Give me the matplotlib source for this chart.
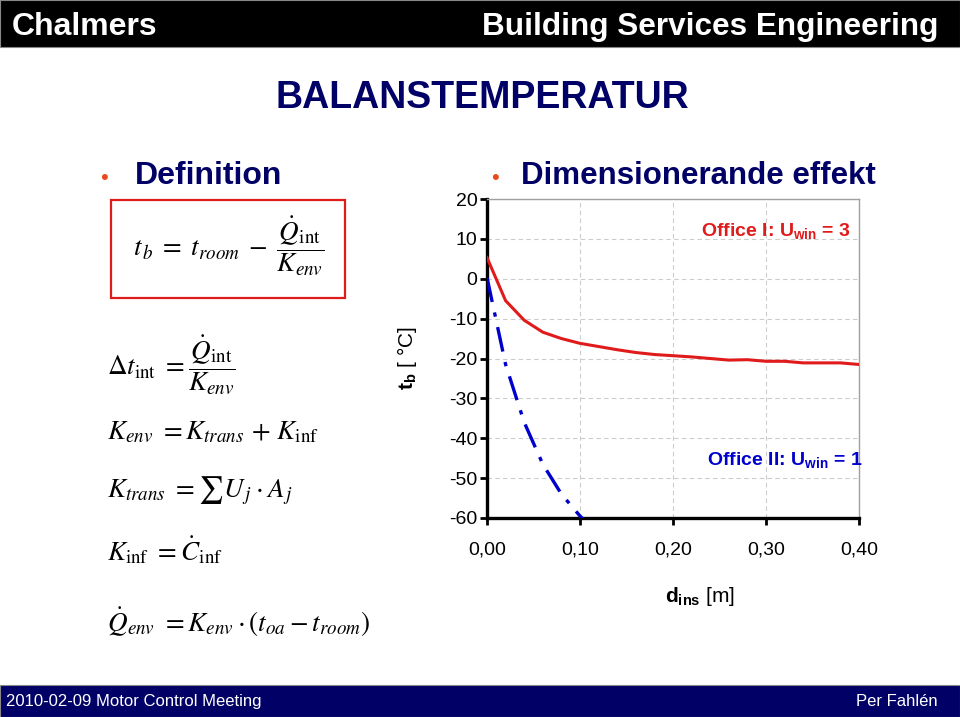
import matplotlib
matplotlib.use("Agg")
import matplotlib.pyplot as plt
from matplotlib.patches import Rectangle

# chart data
d_ins = [0.00, 0.02, 0.04, 0.06, 0.08, 0.10, 0.12, 0.14, 0.16, 0.18, 0.20,
         0.22, 0.24, 0.26, 0.28, 0.30, 0.32, 0.34, 0.36, 0.38, 0.40]
tb_office1 = [5.3, -5.5, -10.4, -13.4, -15.0, -16.2, -17.0, -17.8, -18.5, -19.0, -19.3,
              -19.6, -20.0, -20.4, -20.3, -20.7, -20.7, -21.1, -21.1, -21.1, -21.5]
d_ins2 = [0.00, 0.02, 0.04, 0.06, 0.08, 0.10, 0.12]
tb_office2 = [0.3, -21.5, -36.0, -46.5, -54.0, -59.5, -64.0]

x_ticks = [0.0, 0.1, 0.2, 0.3, 0.4]
x_tick_labels = ["0,00", "0,10", "0,20", "0,30", "0,40"]
y_ticks = [20, 10, 0, -10, -20, -30, -40, -50, -60]

NAVY = "#000066"
RED = "#E01B1B"
BLUE = "#0000CC"
BULLET = "#E8491D"

plt.rcParams["font.family"] = ["Liberation Sans", "DejaVu Sans"]
plt.rcParams["axes.unicode_minus"] = False
plt.rcParams["mathtext.fontset"] = "custom"
plt.rcParams["mathtext.rm"] = "Liberation Sans"
plt.rcParams["mathtext.bf"] = "Liberation Sans:bold"
plt.rcParams["mathtext.it"] = "Liberation Sans:italic"

W, H = 960, 717
fig = plt.figure(figsize=(W / 100, H / 100), dpi=100)


def fx(px):
    return px / W


def fy(py):
    return 1 - py / H


# header and footer bars
fig.patches.append(Rectangle((0, fy(47)), 1, 47 / H, transform=fig.transFigure,
                             facecolor="black", edgecolor="#888888", lw=0.8))
fig.patches.append(Rectangle((0, 0), 1, 32 / H, transform=fig.transFigure,
                             facecolor=NAVY, edgecolor="#888888", lw=0.8))
fig.text(fx(12), fy(35), "Chalmers", color="white", fontsize=23, fontweight="bold",
         ha="left", va="baseline")
fig.text(fx(938), fy(35), "Building Services Engineering", color="white", fontsize=22.7,
         fontweight="bold", ha="right", va="baseline")
fig.text(fx(6), fy(706), "2010-02-09 Motor Control Meeting", color="white", fontsize=12,
         ha="left", va="baseline")
fig.text(fx(938), fy(706), "Per Fahlén", color="white", fontsize=12, ha="right",
         va="baseline")

# titles
fig.text(fx(482), fy(98), "BALANSTEMPERATUR", color=NAVY, fontsize=27, fontweight="bold",
         ha="center", va="center")
fig.text(fx(104), fy(178), "\u2022", color=BULLET, fontsize=16, ha="center", va="center")
fig.text(fx(135), fy(176), "Definition", color=NAVY, fontsize=23, fontweight="bold",
         ha="left", va="center")
fig.text(fx(495), fy(178), "\u2022", color=BULLET, fontsize=16, ha="center", va="center")
fig.text(fx(521), fy(176), "Dimensionerande effekt", color=NAVY, fontsize=22.5,
         fontweight="bold", ha="left", va="center")

# equations
fig.patches.append(Rectangle((fx(111), fy(298)), 234 / W, 98 / H, transform=fig.transFigure,
                             facecolor="none", edgecolor=RED, lw=1.6))
fig.text(fx(229), fy(246),
         r"$t_{\,b} \;=\; t_{room} \;-\; \dfrac{\dot{Q}_{\mathrm{int}}}{K_{env}}$",
         fontsize=19.5, math_fontfamily="stix", ha="center", va="center")
equations = [
    (365, r"$\Delta t_{\mathrm{int}}\ = \dfrac{\dot{Q}_{\mathrm{int}}}{K_{env}}$"),
    (432, r"$K_{env}\ = K_{trans} \,+\, K_{\mathrm{inf}}$"),
    (491, r"$K_{trans}\ = \sum U_{\,j} \cdot A_{\,j}$"),
    (550, r"$K_{\mathrm{inf}}\ = \dot{C}_{\mathrm{inf}}$"),
    (622, r"$\dot{Q}_{env}\ = K_{env} \cdot (t_{oa} - t_{room})$"),
]
for ypos, eq in equations:
    fig.text(fx(107), fy(ypos), eq, fontsize=19.5, math_fontfamily="stix",
             ha="left", va="center")

# chart
ax = fig.add_axes([fx(487), fy(518), (859 - 487) / W, (518 - 199) / H])
ax.plot(d_ins, tb_office1, color=RED, lw=2.2, solid_joinstyle="round", zorder=3)
ax.plot(d_ins2, tb_office2, color=BLUE, lw=2.4, dashes=(7.5, 3.2, 1.3, 3.2), zorder=3)
ax.set_xlim(0, 0.4)
ax.set_ylim(-60, 20)
ax.set_xticks(x_ticks)
ax.set_xticklabels(x_tick_labels)
ax.set_yticks(y_ticks)
ax.grid(True, color="#CCCCCC", linestyle=(0, (4, 3)), lw=0.8)
ax.set_axisbelow(True)
for side in ["left", "bottom"]:
    ax.spines[side].set_linewidth(2.4)
    ax.spines[side].set_color("black")
for side in ["right", "top"]:
    ax.spines[side].set_linewidth(1.0)
    ax.spines[side].set_color("#A0A0A0")
ax.tick_params(axis="both", direction="out", length=5, width=2, labelsize=14, colors="black")
ax.tick_params(axis="x", pad=12)
ax.tick_params(axis="y", pad=2)

ax.text(0.391, 12, r"Office I: U$_{\mathbf{win}}$ = 3", color=RED, fontsize=14,
        fontweight="bold", ha="right", va="center")
ax.text(0.404, -45.5, r"Office II: U$_{\mathbf{win}}$ = 1", color=BLUE, fontsize=14,
        fontweight="bold", ha="right", va="center")

fig.text(fx(407), fy(358), r"$\mathbf{t_{b}}$ [ °C]", fontsize=15, rotation=90,
         ha="center", va="center")
fig.text(fx(700), fy(596), r"$\mathbf{d_{ins}}$ [m]", fontsize=15, ha="center", va="center")

fig.savefig("out.png", dpi=100)
